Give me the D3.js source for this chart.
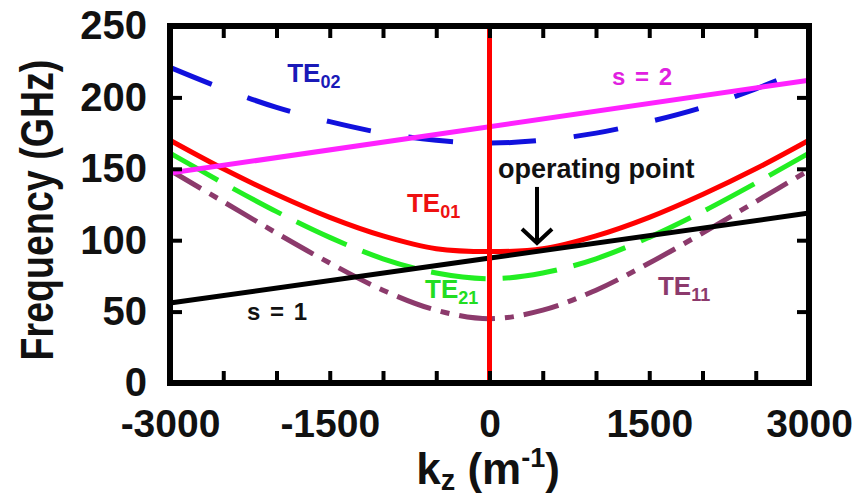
<!DOCTYPE html>
<html>
<head>
<meta charset="utf-8">
<script src="https://cdn.jsdelivr.net/npm/d3@7"></script>
<style>
  body { margin: 0; background: #fff; }
  svg text { font-family: "Liberation Sans", Arial, sans-serif; font-weight: bold; }
</style>
</head>
<body>
<svg id="chart" width="861" height="497"></svg>
<script>
// values (kz in 1/m, frequency in GHz)
const kz = [-3000, -2500, -2000, -1500, -1000, -500, 0, 500, 1000, 1500, 2000, 2500, 3000];
const te01 = [170, 150, 132, 116, 103, 94, 92, 94, 103, 116, 132, 150, 170];
const te21 = [161, 140, 120, 102, 87, 77, 73, 77, 87, 102, 120, 140, 161];
const te11 = [149, 127, 105, 84, 65, 51, 45, 51, 65, 84, 105, 127, 149];
const te02 = [221, 206, 193, 183, 175, 170, 168, 170, 175, 183, 193, 206, 221];
const s1Kz = [-3000, 3000];
const s1 = [56, 119];
const s2Kz = [-3000, 3000];
const s2 = [147, 212];
const xTicks = d3.range(-3000, 3001, 500);
const xLabels = [-3000, -1500, 0, 1500, 3000];
const yTicks = [0, 50, 100, 150, 200, 250];

const svg = d3.select('#chart');
const pLeft = 170, pRight = 809, pTop = 26, pBottom = 383;

const x = d3.scaleLinear().domain([-3000, 3000]).range([pLeft, pRight]);
const y = d3.scaleLinear().domain([0, 250]).range([pBottom, pTop]);

const line = d3.line()
  .x(d => x(d[0]))
  .y(d => y(d[1]))
  .curve(d3.curveCatmullRom.alpha(0.5));

const series = [
  { vals: te02, color: '#1111dd', dash: '45,38', width: 5 },
  { vals: te11, color: '#8c3a6c', dash: '36,10,9,10', width: 5 },
  { vals: te21, color: '#22ee22', dash: '55,17', width: 5 },
  { vals: te01, color: '#ff0000', dash: null, width: 5 }
];

const plot = svg.append('g');

series.forEach(s => {
  plot.append('path')
    .datum(kz.map((k, i) => [k, s.vals[i]]))
    .attr('d', line)
    .attr('fill', 'none')
    .attr('stroke', s.color)
    .attr('stroke-width', s.width)
    .attr('stroke-dasharray', s.dash);
});

plot.append('path')
  .datum(s2Kz.map((k, i) => [k, s2[i]]))
  .attr('d', d3.line().x(d => x(d[0])).y(d => y(d[1])))
  .attr('stroke', '#ff22ff')
  .attr('stroke-width', 5)
  .attr('fill', 'none');

plot.append('path')
  .datum(s1Kz.map((k, i) => [k, s1[i]]))
  .attr('d', d3.line().x(d => x(d[0])).y(d => y(d[1])))
  .attr('stroke', '#000')
  .attr('stroke-width', 5)
  .attr('fill', 'none');

// vertical line at kz = 0
plot.append('line')
  .attr('x1', x(0)).attr('x2', x(0))
  .attr('y1', y(0)).attr('y2', y(250))
  .attr('stroke', '#ff0000')
  .attr('stroke-width', 5);

// axes, ticks pointing inward
const fmtX = d => xLabels.includes(d) ? d : '';

svg.append('g')
  .attr('transform', `translate(0,${pBottom})`)
  .call(d3.axisBottom(x).tickValues(xTicks).tickSize(-12).tickPadding(26).tickFormat(fmtX))
  .call(g => g.selectAll('text').attr('font-size', 39).attr('fill', '#111'));

svg.append('g')
  .attr('transform', `translate(0,${pTop})`)
  .call(d3.axisTop(x).tickValues(xTicks).tickSize(-12).tickFormat(''));

svg.append('g')
  .attr('transform', `translate(${pLeft},0)`)
  .call(d3.axisLeft(y).tickValues(yTicks).tickSize(-12).tickPadding(23))
  .call(g => g.selectAll('text').attr('font-size', 40).attr('fill', '#111'));

svg.append('g')
  .attr('transform', `translate(${pRight},0)`)
  .call(d3.axisRight(y).tickValues(yTicks).tickSize(-12).tickFormat(''));

svg.selectAll('.domain').remove();
svg.selectAll('.tick line').attr('stroke', '#000').attr('stroke-width', 4);

svg.append('rect')
  .attr('x', pLeft).attr('y', pTop)
  .attr('width', pRight - pLeft).attr('height', pBottom - pTop)
  .attr('fill', 'none')
  .attr('stroke', '#000')
  .attr('stroke-width', 6);

// axis titles
svg.append('text')
  .attr('transform', 'translate(53,210) rotate(-90) scale(0.94,1.15)')
  .attr('text-anchor', 'middle')
  .attr('font-size', 40)
  .attr('fill', '#111')
  .text('Frequency (GHz)');

const xt = svg.append('text')
  .attr('x', 488).attr('y', 484)
  .attr('text-anchor', 'middle')
  .attr('font-size', 44)
  .attr('fill', '#111');
xt.append('tspan').text('k');
xt.append('tspan').attr('font-size', 29).attr('dy', 6).text('z');
xt.append('tspan').attr('dy', -6).text(' (m');
xt.append('tspan').attr('font-size', 27).attr('dy', -17).text('-1');
xt.append('tspan').attr('dy', 17).text(')');

// mode labels
const modeLabels = [
  { k: -1900, f: 211, main: 'TE', sub: '02', color: '#1a1ab8' },
  { k: -775, f: 120, main: 'TE', sub: '01', color: '#ee1111' },
  { k: -605, f: 59.5, main: 'TE', sub: '21', color: '#22dd22' },
  { k: 1582, f: 61.5, main: 'TE', sub: '11', color: '#8c3a6c' }
];

modeLabels.forEach(l => {
  const t = svg.append('text')
    .attr('x', x(l.k)).attr('y', y(l.f))
    .attr('font-size', 26)
    .attr('fill', l.color);
  t.append('tspan').text(l.main);
  t.append('tspan').attr('font-size', 18).attr('dy', 6).text(l.sub);
});

svg.append('text')
  .attr('x', x(1150)).attr('y', y(208.7))
  .attr('font-size', 24)
  .attr('word-spacing', 3)
  .attr('fill', '#e020e0')
  .text('s = 2');

svg.append('text')
  .attr('x', x(-2277)).attr('y', y(44))
  .attr('font-size', 24)
  .attr('word-spacing', 3)
  .attr('fill', '#111')
  .text('s = 1');

svg.append('text')
  .attr('x', x(80)).attr('y', y(143.6))
  .attr('font-size', 27)
  .attr('fill', '#111')
  .text('operating point');

// arrow to the operating point
const ax = x(446), ay1 = y(137.3), ay2 = y(98);
svg.append('line')
  .attr('x1', ax).attr('x2', ax)
  .attr('y1', ay1).attr('y2', ay2 - 2)
  .attr('stroke', '#000').attr('stroke-width', 4);
svg.append('path')
  .attr('d', `M${ax - 15},${ay2 - 14}L${ax},${ay2}L${ax + 15},${ay2 - 14}`)
  .attr('fill', 'none')
  .attr('stroke', '#000')
  .attr('stroke-width', 4);
</script>
</body>
</html>
